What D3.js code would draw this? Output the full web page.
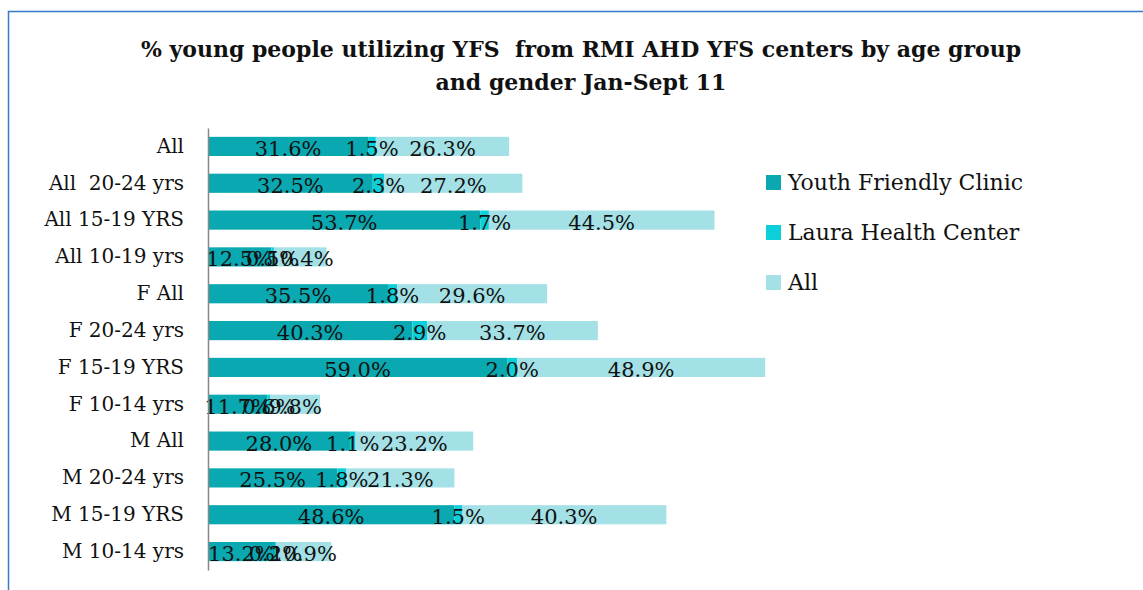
<!DOCTYPE html>
<html>
<head>
<meta charset="utf-8">
<script src="https://cdn.jsdelivr.net/npm/d3@7"></script>
<style>
  body { margin: 0; background: #fff; }
  svg { display: block; font-family: "DejaVu Serif", serif; }
</style>
</head>
<body>
<svg id="chart" width="1143" height="590"></svg>
<script>
// Data
const categories = ["All", "All  20-24 yrs", "All 15-19 YRS", "All 10-19 yrs", "F All", "F 20-24 yrs",
  "F 15-19 YRS", "F 10-14 yrs", "M All", "M 20-24 yrs", "M 15-19 YRS", "M 10-14 yrs"];
const seriesNames = ["Youth Friendly Clinic", "Laura Health Center", "All"];
const youthClinic = [31.6, 32.5, 53.7, 12.5, 35.5, 40.3, 59.0, 11.7, 28.0, 25.5, 48.6, 13.2];
const lauraHealth = [1.5, 2.3, 1.7, 0.5, 1.8, 2.9, 2.0, 0.6, 1.1, 1.8, 1.5, 0.2];
const allCenters = [26.3, 27.2, 44.5, 10.4, 29.6, 33.7, 48.9, 9.8, 23.2, 21.3, 40.3, 10.9];
const colors = ["#0aa8b0", "#0ccfd9", "#a3e1e7"];

const rows = categories.map((c, i) => ({ cat: c, v0: youthClinic[i], v1: lauraHealth[i], v2: allCenters[i] }));
const keys = ["v0", "v1", "v2"];
const stacked = d3.stack().keys(keys)(rows);

const svg = d3.select("#chart");

// frame
svg.append("path")
  .attr("d", "M8.5,590 L8.5,11.5 L1143,11.5")
  .attr("fill", "none")
  .attr("stroke", "#3a78c8")
  .attr("stroke-width", 1.5);

// title
const title = svg.append("text")
  .attr("text-anchor", "middle")
  .attr("font-weight", "bold")
  .attr("font-size", 22)
  .attr("fill", "#111")
  .attr("xml:space", "preserve")
  .style("white-space", "pre");
title.append("tspan").attr("x", 581).attr("y", 57).text("% young people utilizing YFS  from RMI AHD YFS centers by age group");
title.append("tspan").attr("x", 581).attr("y", 90).text("and gender Jan-Sept 11");

const x = d3.scaleLinear().domain([0, 100]).range([208, 715]);
const y = d3.scaleBand().domain(categories).range([128, 570]).paddingInner(0.48).paddingOuter(0.24);

// bars
const layers = svg.append("g").selectAll("g")
  .data(stacked)
  .join("g")
  .attr("fill", (d, i) => colors[i]);

layers.selectAll("rect")
  .data(d => d)
  .join("rect")
  .attr("x", d => x(d[0]))
  .attr("y", d => y(d.data.cat))
  .attr("width", d => x(d[1]) - x(d[0]))
  .attr("height", y.bandwidth());

// value labels, drawn above all bars
const labelGroups = svg.append("g").selectAll("g")
  .data(stacked)
  .join("g");

labelGroups.selectAll("text")
  .data(s => s.map(d => ({ d, key: s.key })))
  .join("text")
  .attr("x", o => (x(o.d[0]) + x(o.d[1])) / 2)
  .attr("y", o => y(o.d.data.cat) + y.bandwidth() / 2)
  .attr("dy", "0.45em")
  .attr("text-anchor", "middle")
  .attr("font-size", 21)
  .attr("fill", "#111")
  .text(o => o.d.data[o.key].toFixed(1) + "%");

// axis
const yAxis = svg.append("g")
  .attr("transform", "translate(208,0)")
  .call(d3.axisLeft(y).tickSize(0).tickPadding(24));
yAxis.select(".domain").attr("stroke", "#888").attr("stroke-width", 1.5);
yAxis.selectAll("text")
  .attr("font-family", "DejaVu Serif, serif")
  .attr("font-size", 20)
  .attr("fill", "#111")
  .attr("dy", "0.32em")
  .style("white-space", "pre")
  .attr("xml:space", "preserve");

// legend
const legend = svg.append("g").attr("transform", "translate(766,175)");
const li = legend.selectAll("g")
  .data(seriesNames)
  .join("g")
  .attr("transform", (d, i) => `translate(0,${i * 50})`);
li.append("rect").attr("width", 15).attr("height", 15).attr("fill", (d, i) => colors[i]);
li.append("text")
  .attr("x", 22)
  .attr("y", 15)
  .attr("font-size", 22)
  .attr("fill", "#111")
  .text(d => d);
</script>
</body>
</html>
